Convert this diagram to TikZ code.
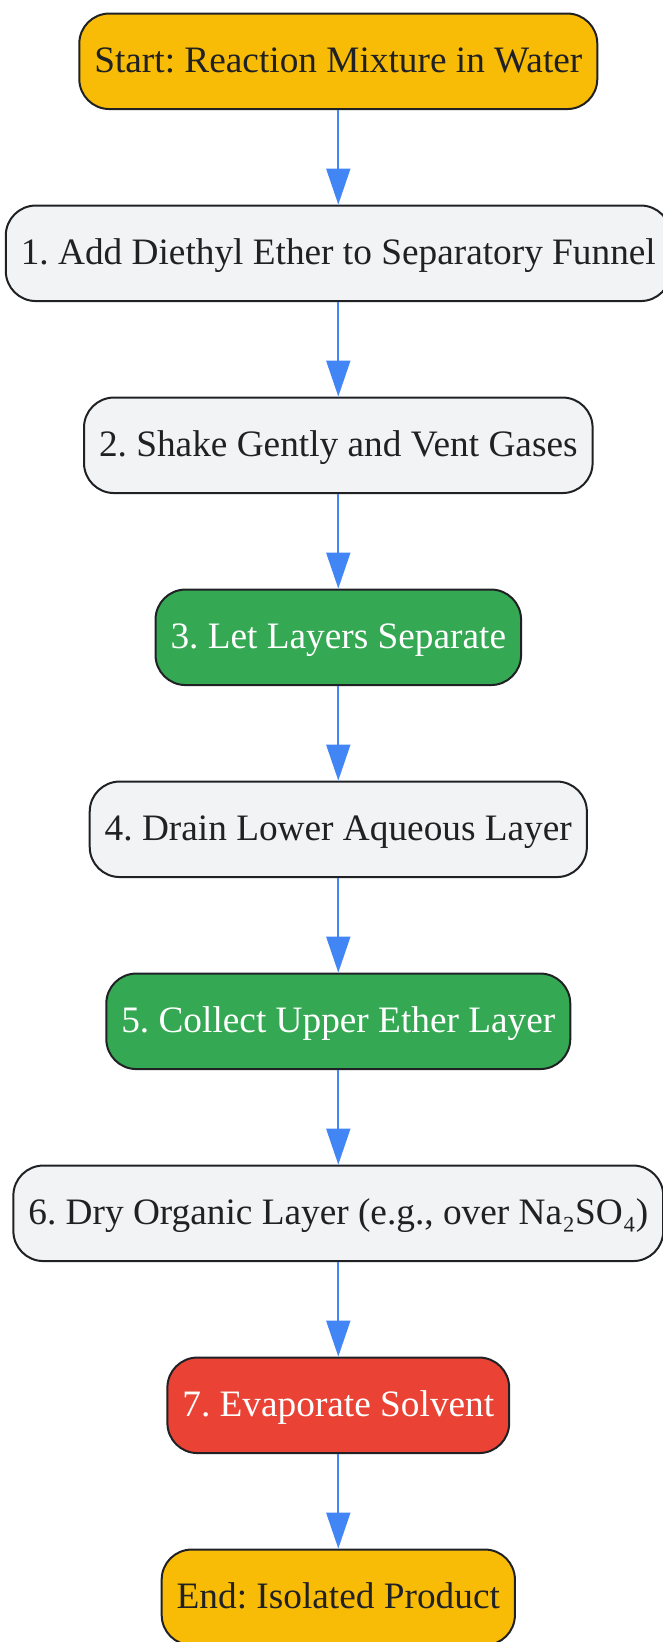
\documentclass[tikz,border=0pt]{standalone}
\usepackage{fontspec}
\setmainfont{Liberation Serif}
\usetikzlibrary{positioning,arrows.meta}
\definecolor{endyellow}{HTML}{F9BC06}
\definecolor{stepgrey}{HTML}{F1F3F4}
\definecolor{keygreen}{HTML}{34A853}
\definecolor{keyred}{HTML}{EA4335}
\definecolor{flowblue}{HTML}{4285F4}
\definecolor{inkdark}{HTML}{202124}
\frenchspacing

\begin{document}
\begin{tikzpicture}[-{Triangle[length=18pt,width=12pt]}, node distance =96pt, on grid, line width=1pt,
stepbox/.style ={rectangle, rounded corners=15pt, draw=inkdark, fill=stepgrey, text=inkdark,
minimum height=47.75pt, inner xsep=7.5pt, text height=14pt, text depth=3pt,
font=\fontsize{18.65}{22}\selectfont},
endbox/.style ={stepbox, fill=endyellow},
greenbox/.style ={stepbox, fill=keygreen, text=white},
redbox/.style ={stepbox, fill=keyred, text=white},
flow/.style ={color=flowblue}]
\useasboundingbox (-169.15pt,30.65pt) rectangle (162.35pt,-790.35pt);
\node[endbox] (Start) {Start: Reaction Mixture in Water};
\node[stepbox] (AddEther) [below=of Start] {1. Add Diethyl Ether to Separatory Funnel};
\node[stepbox] (Shake) [below=of AddEther] {2. Shake Gently and Vent Gases};
\node[greenbox] (Settle) [below=of Shake] {3. Let Layers Separate};
\node[stepbox] (Drain) [below=of Settle] {4. Drain Lower Aqueous Layer};
\node[greenbox] (Collect) [below=of Drain] {5. Collect Upper Ether Layer};
\node[stepbox] (Dry) [below=of Collect] {6. Dry Organic Layer (e.g., over Na₂SO₄)};
\node[redbox] (Evaporate) [below=of Dry] {7. Evaporate Solvent};
\node[endbox] (End) [below=of Evaporate] {End: Isolated Product};

\path[flow] (Start) edge (AddEther);
\path[flow] (AddEther) edge (Shake);
\path[flow] (Shake) edge (Settle);
\path[flow] (Settle) edge (Drain);
\path[flow] (Drain) edge (Collect);
\path[flow] (Collect) edge (Dry);
\path[flow] (Dry) edge (Evaporate);
\path[flow] (Evaporate) edge (End);
\end{tikzpicture}
\end{document}
